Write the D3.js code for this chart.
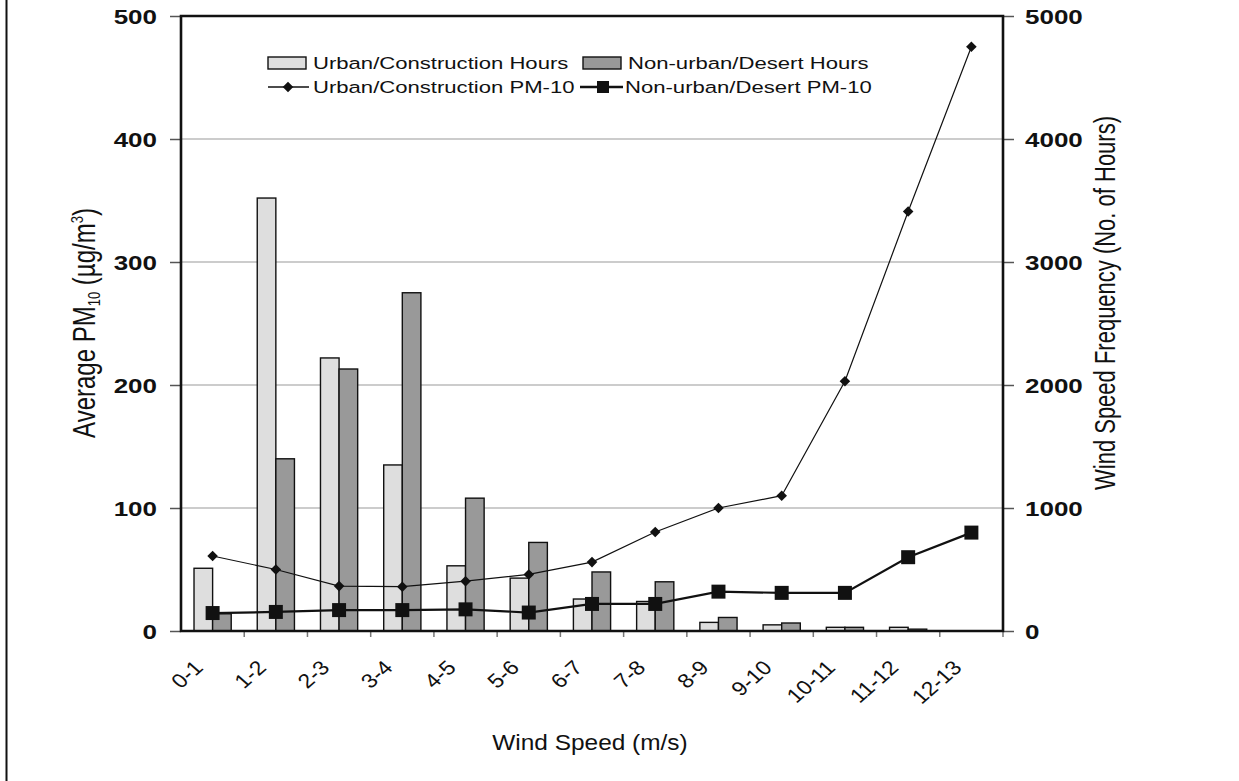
<!DOCTYPE html>
<html>
<head>
<meta charset="utf-8">
<script src="https://cdn.jsdelivr.net/npm/d3@7"></script>
<style>
  body { margin: 0; background: #fff; }
  text { font-family: "Liberation Sans", Arial, sans-serif; fill: #111; }
</style>
</head>
<body>
<svg id="chart" width="1239" height="781"></svg>
<script>
// data
const categories = ["0-1", "1-2", "2-3", "3-4", "4-5", "5-6", "6-7", "7-8", "8-9", "9-10", "10-11", "11-12", "12-13"];
const urbanHours = [510, 3520, 2220, 1350, 530, 430, 260, 240, 70, 50, 30, 30, 0];
const desertHours = [140, 1400, 2130, 2750, 1080, 720, 480, 400, 110, 65, 30, 15, 0];
const urbanPM = [61, 50, 36.5, 36, 40.5, 46, 56, 80.5, 100, 110, 203, 341, 475];
const desertPM = [14.6, 15.5, 17, 17, 17.6, 15, 22, 22, 32, 31, 31, 60, 80];
const pmTicks = [0, 100, 200, 300, 400, 500];
const hourTicks = [0, 1000, 2000, 3000, 4000, 5000];

const SX = 1.3; // the original figure is stretched sideways
const svg = d3.select("#chart");
const plotL = 181, plotR = 1003, plotT = 16, plotB = 631;

const x = d3.scaleBand().domain(categories).range([plotL, plotR]);
const xs = d3.scaleBand().domain(["u", "d"]).range([0, x.bandwidth()]).paddingOuter(0.7);
const yPM = d3.scaleLinear().domain([0, 500]).range([plotB, plotT]);
const yH = d3.scaleLinear().domain([0, 5000]).range([plotB, plotT]);
const cx = c => x(c) + x.bandwidth() / 2;

// outer border on the left edge
svg.append("line").attr("x1", 6.5).attr("x2", 6.5).attr("y1", 0).attr("y2", 781)
  .attr("stroke", "#111").attr("stroke-width", 2);

// grid
svg.append("g").selectAll("line").data(pmTicks.slice(1, -1)).join("line")
  .attr("x1", plotL).attr("x2", plotR)
  .attr("y1", d => yPM(d)).attr("y2", d => yPM(d))
  .attr("stroke", "#999").attr("stroke-width", 1.2);

// bars
const groups = svg.append("g").selectAll("g").data(categories).join("g")
  .attr("transform", c => `translate(${x(c)},0)`);
groups.append("rect")
  .attr("x", xs("u")).attr("width", xs.bandwidth())
  .attr("y", (c, i) => yH(urbanHours[i]))
  .attr("height", (c, i) => plotB - yH(urbanHours[i]))
  .attr("fill", "#dedede").attr("stroke", "#111").attr("stroke-width", 1.4)
  .attr("display", (c, i) => urbanHours[i] > 0 ? null : "none");
groups.append("rect")
  .attr("x", xs("d")).attr("width", xs.bandwidth())
  .attr("y", (c, i) => yH(desertHours[i]))
  .attr("height", (c, i) => plotB - yH(desertHours[i]))
  .attr("fill", "#999").attr("stroke", "#111").attr("stroke-width", 1.4)
  .attr("display", (c, i) => desertHours[i] > 0 ? null : "none");

// lines
const line = d3.line().x((d, i) => cx(categories[i])).y(d => yPM(d));
svg.append("path").datum(urbanPM).attr("d", line)
  .attr("fill", "none").attr("stroke", "#111").attr("stroke-width", 1.2);
svg.append("path").datum(desertPM).attr("d", line)
  .attr("fill", "none").attr("stroke", "#111").attr("stroke-width", 2.2);

const diamond = d3.symbol(d3.symbolSquare, 56);
const square = d3.symbol(d3.symbolSquare, 196);
svg.append("g").selectAll("path").data(urbanPM).join("path")
  .attr("d", diamond)
  .attr("transform", (d, i) => `translate(${cx(categories[i])},${yPM(d)}) rotate(45)`)
  .attr("fill", "#111");
svg.append("g").selectAll("path").data(desertPM).join("path")
  .attr("d", square)
  .attr("transform", (d, i) => `translate(${cx(categories[i])},${yPM(d)})`)
  .attr("fill", "#111");

// axes
const axL = svg.append("g").attr("transform", `translate(${plotL},0)`)
  .call(d3.axisLeft(yPM).tickValues(pmTicks).tickSize(11).tickFormat(d3.format("d")));
axL.selectAll("text").attr("x", 0).attr("dy", "0.36em")
  .attr("transform", `translate(-24,0) scale(${SX},1)`);
const axR = svg.append("g").attr("transform", `translate(${plotR},0)`)
  .call(d3.axisRight(yH).tickValues(hourTicks).tickSize(11).tickFormat(d3.format("d")));
axR.selectAll("text").attr("x", 0).attr("dy", "0.36em")
  .attr("transform", `translate(22,0) scale(${SX},1)`);
[axL, axR].forEach(a => {
  a.selectAll("text").attr("font-size", 20).attr("font-weight", "bold")
    .attr("font-family", "Liberation Sans, Arial, sans-serif").attr("fill", "#111");
  a.select(".domain").remove();
  a.selectAll(".tick line").attr("stroke", "#555").attr("stroke-width", 1.5);
});

const axB = svg.append("g").attr("transform", `translate(0,${plotB})`)
  .call(d3.axisBottom(x).tickSize(0));
axB.select(".domain").remove();
axB.selectAll("text")
  .attr("x", 0).attr("y", 0).attr("dy", "0.35em")
  .attr("text-anchor", "end")
  .attr("transform", "translate(-14,33) scale(1.15,1) rotate(-45)")
  .attr("font-size", 20).attr("font-family", "Liberation Sans, Arial, sans-serif")
  .attr("fill", "#111");
// small ticks on category boundaries
svg.append("g").selectAll("line").data(categories.slice(1).concat([null])).join("line")
  .attr("x1", c => c ? x(c) : plotR).attr("x2", c => c ? x(c) : plotR)
  .attr("y1", plotB).attr("y2", plotB + 6)
  .attr("stroke", "#777").attr("stroke-width", 1.5);

// frame
svg.append("path")
  .attr("d", `M${plotL},${plotB}V${plotT}H${plotR}V${plotB}Z`)
  .attr("fill", "none").attr("stroke", "#111").attr("stroke-width", 2.6);

// titles
function stretchedText(px, py, rot, sx) {
  return svg.append("g").attr("transform", `translate(${px},${py}) scale(${sx || SX},1) rotate(${rot})`)
    .append("text").attr("text-anchor", "middle");
}
stretchedText(590, 750, 0, 1.11).attr("font-size", 22).text("Wind Speed (m/s)");

const lt = stretchedText(95, 323, -90).attr("font-size", 24);
lt.append("tspan").text("Average PM");
lt.append("tspan").attr("font-size", 13).attr("dy", 4).text("10");
lt.append("tspan").attr("dy", -4).text(" (µg/m");
lt.append("tspan").attr("font-size", 13).attr("dy", -9).text("3");
lt.append("tspan").attr("dy", 9).text(")");

stretchedText(1115, 303, -90).attr("font-size", 22).text("Wind Speed Frequency (No. of Hours)");

// legend
const legend = svg.append("g");
const legItems = [
  { label: "Urban/Construction Hours", kind: "bar", fill: "#dedede", x: 268, y: 63 },
  { label: "Non-urban/Desert Hours", kind: "bar", fill: "#999", x: 583, y: 63 },
  { label: "Urban/Construction PM-10", kind: "diamond", x: 268, y: 87 },
  { label: "Non-urban/Desert PM-10", kind: "square", x: 580, y: 87 }
];
legItems.forEach(it => {
  const g = legend.append("g").attr("transform", `translate(${it.x},${it.y})`);
  if (it.kind === "bar") {
    g.append("rect").attr("x", 0).attr("y", -6).attr("width", 38).attr("height", 12)
      .attr("fill", it.fill).attr("stroke", "#111").attr("stroke-width", 1.4);
  } else if (it.kind === "diamond") {
    g.append("line").attr("x1", 0).attr("x2", 41).attr("stroke", "#111").attr("stroke-width", 1.4);
    g.append("path").attr("d", diamond).attr("transform", "translate(20,0) rotate(45)").attr("fill", "#111");
  } else {
    g.append("line").attr("x1", 0).attr("x2", 43).attr("stroke", "#111").attr("stroke-width", 2.4);
    g.append("path").attr("d", d3.symbol(d3.symbolSquare, 144)).attr("transform", "translate(23,0)").attr("fill", "#111");
  }
  legend.append("g").attr("transform", `translate(${it.x + 45},${it.y + 6}) scale(${SX},1)`)
    .append("text").attr("font-size", 17).text(it.label);
});
</script>
</body>
</html>
